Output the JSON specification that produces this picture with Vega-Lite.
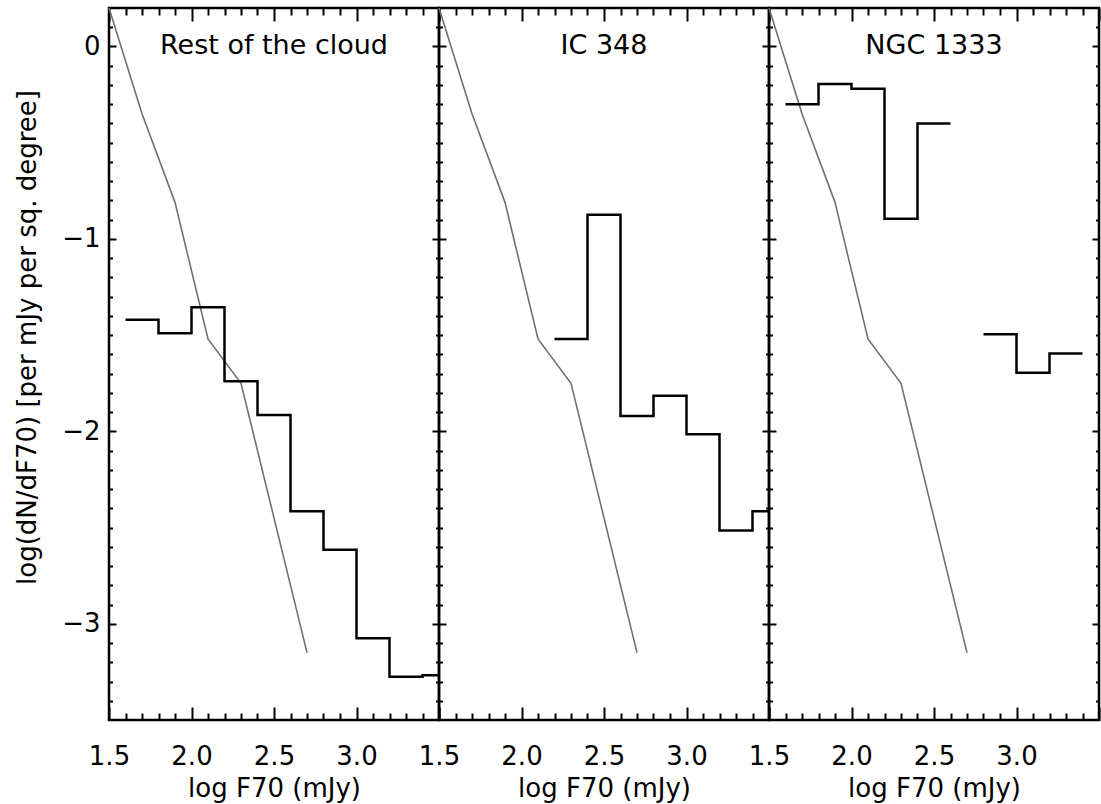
{
  "$schema": "https://vega.github.io/schema/vega-lite/v6.json",
  "background": "white",
  "padding": {"left": 13, "top": 3, "right": 2, "bottom": 0},
  "spacing": 0,
  "bounds": "flush",
  "datasets": {
    "model": [
      {"x": 1.5, "y": 0.2},
      {"x": 1.7, "y": -0.35},
      {"x": 1.9, "y": -0.81},
      {"x": 2.1, "y": -1.52},
      {"x": 2.3, "y": -1.75},
      {"x": 2.7, "y": -3.15}
    ],
    "hist": [
      {"panel": "rest", "seg": 1, "x": 1.6, "y": -1.42},
      {"panel": "rest", "seg": 1, "x": 1.8, "y": -1.49},
      {"panel": "rest", "seg": 1, "x": 2.0, "y": -1.355},
      {"panel": "rest", "seg": 1, "x": 2.2, "y": -1.74},
      {"panel": "rest", "seg": 1, "x": 2.4, "y": -1.915},
      {"panel": "rest", "seg": 1, "x": 2.6, "y": -2.415},
      {"panel": "rest", "seg": 1, "x": 2.8, "y": -2.615},
      {"panel": "rest", "seg": 1, "x": 3.0, "y": -3.075},
      {"panel": "rest", "seg": 1, "x": 3.2, "y": -3.275},
      {"panel": "rest", "seg": 1, "x": 3.4, "y": -3.267},
      {"panel": "rest", "seg": 1, "x": 3.5, "y": -3.267},
      {"panel": "ic348", "seg": 1, "x": 2.2, "y": -1.52},
      {"panel": "ic348", "seg": 1, "x": 2.4, "y": -0.875},
      {"panel": "ic348", "seg": 1, "x": 2.6, "y": -1.92},
      {"panel": "ic348", "seg": 1, "x": 2.8, "y": -1.815},
      {"panel": "ic348", "seg": 1, "x": 3.0, "y": -2.015},
      {"panel": "ic348", "seg": 1, "x": 3.2, "y": -2.515},
      {"panel": "ic348", "seg": 1, "x": 3.4, "y": -2.415},
      {"panel": "ic348", "seg": 1, "x": 3.5, "y": -2.415},
      {"panel": "ngc1333", "seg": 1, "x": 1.6, "y": -0.3},
      {"panel": "ngc1333", "seg": 1, "x": 1.8, "y": -0.195},
      {"panel": "ngc1333", "seg": 1, "x": 2.0, "y": -0.22},
      {"panel": "ngc1333", "seg": 1, "x": 2.2, "y": -0.895},
      {"panel": "ngc1333", "seg": 1, "x": 2.4, "y": -0.4},
      {"panel": "ngc1333", "seg": 1, "x": 2.6, "y": -0.4},
      {"panel": "ngc1333", "seg": 2, "x": 2.8, "y": -1.495},
      {"panel": "ngc1333", "seg": 2, "x": 3.0, "y": -1.695},
      {"panel": "ngc1333", "seg": 2, "x": 3.2, "y": -1.595},
      {"panel": "ngc1333", "seg": 2, "x": 3.4, "y": -1.595}
    ],
    "titles": [
      {"panel": "rest", "label": "Rest of the cloud"},
      {"panel": "ic348", "label": "IC 348"},
      {"panel": "ngc1333", "label": "NGC 1333"}
    ]
  },
  "hconcat": [
    {
      "width": 330, "height": 712,
      "layer": [
        {
          "data": {"name": "model"},
          "mark": {"type": "line", "color": "#707070", "strokeWidth": 1.6},
          "encoding": {
            "x": {"field": "x", "type": "quantitative", "scale": {"domain": [1.5, 3.5], "nice": false, "zero": false},
              "axis": {"orient": "bottom", "values": [1.5,1.6,1.7,1.8,1.9,2.0,2.1,2.2,2.3,2.4,2.5,2.6,2.7,2.8,2.9,3.0,3.1,3.2,3.3,3.4,3.5],
                "tickSize": {"condition": {"test": "abs(datum.value*2-round(datum.value*2))<0.001", "value": -13}, "value": -7},
                "labelExpr": "abs(datum.value*2-round(datum.value*2))<0.001 && datum.value<3.4 ? format(datum.value,'.1f') : ''",
                "labelPadding": 36, "title": "log F70 (mJy)", "titlePadding": 0}},
            "y": {"field": "y", "type": "quantitative", "scale": {"domain": [-3.5, 0.2], "nice": false, "zero": false},
              "axis": {"orient": "left", "values": [-3.4,-3.3,-3.2,-3.1,-3,-2.9,-2.8,-2.7,-2.6,-2.5,-2.4,-2.3,-2.2,-2.1,-2,-1.9,-1.8,-1.7,-1.6,-1.5,-1.4,-1.3,-1.2,-1.1,-1,-0.9,-0.8,-0.7,-0.6,-0.5,-0.4,-0.3,-0.2,-0.1,0,0.1],
                "tickSize": {"condition": {"test": "abs(datum.value-round(datum.value))<0.001", "value": -7}, "value": -3.5},
                "labelExpr": "abs(datum.value-round(datum.value))<0.001 ? format(round(datum.value),'d') : ''",
                "labelPadding": 16, "title": "log(dN/dF70) [per mJy per sq. degree]", "titlePadding": 21, "titleY": 329}}
          }
        },
        {
          "data": {"name": "hist"},
          "transform": [{"filter": "datum.panel == 'rest'"}],
          "mark": {"type": "line", "interpolate": "step-after", "color": "black", "strokeWidth": 2.5},
          "encoding": {
            "x": {"field": "x", "type": "quantitative", "scale": {"domain": [1.5, 3.5], "nice": false, "zero": false},
              "axis": {"orient": "top", "values": [1.5,1.6,1.7,1.8,1.9,2.0,2.1,2.2,2.3,2.4,2.5,2.6,2.7,2.8,2.9,3.0,3.1,3.2,3.3,3.4,3.5],
                "tickSize": {"condition": {"test": "abs(datum.value*2-round(datum.value*2))<0.001", "value": -13}, "value": -7},
                "labels": false, "title": null}},
            "y": {"field": "y", "type": "quantitative", "scale": {"domain": [-3.5, 0.2], "nice": false, "zero": false},
              "axis": {"orient": "right", "values": [-3.4,-3.3,-3.2,-3.1,-3,-2.9,-2.8,-2.7,-2.6,-2.5,-2.4,-2.3,-2.2,-2.1,-2,-1.9,-1.8,-1.7,-1.6,-1.5,-1.4,-1.3,-1.2,-1.1,-1,-0.9,-0.8,-0.7,-0.6,-0.5,-0.4,-0.3,-0.2,-0.1,0,0.1],
                "tickSize": {"condition": {"test": "abs(datum.value-round(datum.value))<0.001", "value": -7}, "value": -3.5},
                "labels": false, "title": null}},
            "detail": {"field": "seg", "type": "nominal"}
          }
        },
        {
          "data": {"name": "titles"},
          "transform": [{"filter": "datum.panel == 'rest'"}],
          "mark": {"type": "text", "font": "DejaVu Sans", "fontSize": 27, "baseline": "middle", "align": "center", "color": "black"},
          "encoding": {
            "x": {"datum": 2.5, "type": "quantitative", "axis": null},
            "y": {"datum": 0, "type": "quantitative", "axis": null},
            "text": {"field": "label"}
          }
        }
      ],
      "resolve": {"axis": {"x": "independent", "y": "independent"}}
    },
    {
      "width": 330, "height": 712,
      "layer": [
        {
          "data": {"name": "model"},
          "mark": {"type": "line", "color": "#707070", "strokeWidth": 1.6},
          "encoding": {
            "x": {"field": "x", "type": "quantitative", "scale": {"domain": [1.5, 3.5], "nice": false, "zero": false},
              "axis": {"orient": "bottom", "values": [1.5,1.6,1.7,1.8,1.9,2.0,2.1,2.2,2.3,2.4,2.5,2.6,2.7,2.8,2.9,3.0,3.1,3.2,3.3,3.4,3.5],
                "tickSize": {"condition": {"test": "abs(datum.value*2-round(datum.value*2))<0.001", "value": -13}, "value": -7},
                "labelExpr": "abs(datum.value*2-round(datum.value*2))<0.001 && datum.value<3.4 ? format(datum.value,'.1f') : ''",
                "labelPadding": 36, "title": "log F70 (mJy)", "titlePadding": 0}},
            "y": {"field": "y", "type": "quantitative", "scale": {"domain": [-3.5, 0.2], "nice": false, "zero": false},
              "axis": {"orient": "left", "values": [-3.4,-3.3,-3.2,-3.1,-3,-2.9,-2.8,-2.7,-2.6,-2.5,-2.4,-2.3,-2.2,-2.1,-2,-1.9,-1.8,-1.7,-1.6,-1.5,-1.4,-1.3,-1.2,-1.1,-1,-0.9,-0.8,-0.7,-0.6,-0.5,-0.4,-0.3,-0.2,-0.1,0,0.1],
                "tickSize": {"condition": {"test": "abs(datum.value-round(datum.value))<0.001", "value": -7}, "value": -3.5},
                "labels": false, "title": null}}
          }
        },
        {
          "data": {"name": "hist"},
          "transform": [{"filter": "datum.panel == 'ic348'"}],
          "mark": {"type": "line", "interpolate": "step-after", "color": "black", "strokeWidth": 2.5},
          "encoding": {
            "x": {"field": "x", "type": "quantitative", "scale": {"domain": [1.5, 3.5], "nice": false, "zero": false},
              "axis": {"orient": "top", "values": [1.5,1.6,1.7,1.8,1.9,2.0,2.1,2.2,2.3,2.4,2.5,2.6,2.7,2.8,2.9,3.0,3.1,3.2,3.3,3.4,3.5],
                "tickSize": {"condition": {"test": "abs(datum.value*2-round(datum.value*2))<0.001", "value": -13}, "value": -7},
                "labels": false, "title": null}},
            "y": {"field": "y", "type": "quantitative", "scale": {"domain": [-3.5, 0.2], "nice": false, "zero": false},
              "axis": {"orient": "right", "values": [-3.4,-3.3,-3.2,-3.1,-3,-2.9,-2.8,-2.7,-2.6,-2.5,-2.4,-2.3,-2.2,-2.1,-2,-1.9,-1.8,-1.7,-1.6,-1.5,-1.4,-1.3,-1.2,-1.1,-1,-0.9,-0.8,-0.7,-0.6,-0.5,-0.4,-0.3,-0.2,-0.1,0,0.1],
                "tickSize": {"condition": {"test": "abs(datum.value-round(datum.value))<0.001", "value": -7}, "value": -3.5},
                "labels": false, "title": null}},
            "detail": {"field": "seg", "type": "nominal"}
          }
        },
        {
          "data": {"name": "titles"},
          "transform": [{"filter": "datum.panel == 'ic348'"}],
          "mark": {"type": "text", "font": "DejaVu Sans", "fontSize": 27, "baseline": "middle", "align": "center", "color": "black"},
          "encoding": {
            "x": {"datum": 2.5, "type": "quantitative", "axis": null},
            "y": {"datum": 0, "type": "quantitative", "axis": null},
            "text": {"field": "label"}
          }
        }
      ],
      "resolve": {"axis": {"x": "independent", "y": "independent"}}
    },
    {
      "width": 330, "height": 712,
      "layer": [
        {
          "data": {"name": "model"},
          "mark": {"type": "line", "color": "#707070", "strokeWidth": 1.6},
          "encoding": {
            "x": {"field": "x", "type": "quantitative", "scale": {"domain": [1.5, 3.5], "nice": false, "zero": false},
              "axis": {"orient": "bottom", "values": [1.5,1.6,1.7,1.8,1.9,2.0,2.1,2.2,2.3,2.4,2.5,2.6,2.7,2.8,2.9,3.0,3.1,3.2,3.3,3.4,3.5],
                "tickSize": {"condition": {"test": "abs(datum.value*2-round(datum.value*2))<0.001", "value": -13}, "value": -7},
                "labelExpr": "abs(datum.value*2-round(datum.value*2))<0.001 && datum.value<3.4 ? format(datum.value,'.1f') : ''",
                "labelPadding": 36, "title": "log F70 (mJy)", "titlePadding": 0}},
            "y": {"field": "y", "type": "quantitative", "scale": {"domain": [-3.5, 0.2], "nice": false, "zero": false},
              "axis": {"orient": "left", "values": [-3.4,-3.3,-3.2,-3.1,-3,-2.9,-2.8,-2.7,-2.6,-2.5,-2.4,-2.3,-2.2,-2.1,-2,-1.9,-1.8,-1.7,-1.6,-1.5,-1.4,-1.3,-1.2,-1.1,-1,-0.9,-0.8,-0.7,-0.6,-0.5,-0.4,-0.3,-0.2,-0.1,0,0.1],
                "tickSize": {"condition": {"test": "abs(datum.value-round(datum.value))<0.001", "value": -7}, "value": -3.5},
                "labels": false, "title": null}}
          }
        },
        {
          "data": {"name": "hist"},
          "transform": [{"filter": "datum.panel == 'ngc1333'"}],
          "mark": {"type": "line", "interpolate": "step-after", "color": "black", "strokeWidth": 2.5},
          "encoding": {
            "x": {"field": "x", "type": "quantitative", "scale": {"domain": [1.5, 3.5], "nice": false, "zero": false},
              "axis": {"orient": "top", "values": [1.5,1.6,1.7,1.8,1.9,2.0,2.1,2.2,2.3,2.4,2.5,2.6,2.7,2.8,2.9,3.0,3.1,3.2,3.3,3.4,3.5],
                "tickSize": {"condition": {"test": "abs(datum.value*2-round(datum.value*2))<0.001", "value": -13}, "value": -7},
                "labels": false, "title": null}},
            "y": {"field": "y", "type": "quantitative", "scale": {"domain": [-3.5, 0.2], "nice": false, "zero": false},
              "axis": {"orient": "right", "values": [-3.4,-3.3,-3.2,-3.1,-3,-2.9,-2.8,-2.7,-2.6,-2.5,-2.4,-2.3,-2.2,-2.1,-2,-1.9,-1.8,-1.7,-1.6,-1.5,-1.4,-1.3,-1.2,-1.1,-1,-0.9,-0.8,-0.7,-0.6,-0.5,-0.4,-0.3,-0.2,-0.1,0,0.1],
                "tickSize": {"condition": {"test": "abs(datum.value-round(datum.value))<0.001", "value": -7}, "value": -3.5},
                "labels": false, "title": null}},
            "detail": {"field": "seg", "type": "nominal"}
          }
        },
        {
          "data": {"name": "titles"},
          "transform": [{"filter": "datum.panel == 'ngc1333'"}],
          "mark": {"type": "text", "font": "DejaVu Sans", "fontSize": 27, "baseline": "middle", "align": "center", "color": "black"},
          "encoding": {
            "x": {"datum": 2.5, "type": "quantitative", "axis": null},
            "y": {"datum": 0, "type": "quantitative", "axis": null},
            "text": {"field": "label"}
          }
        }
      ],
      "resolve": {"axis": {"x": "independent", "y": "independent"}}
    }
  ],
  "config": {
    "view": {"stroke": "black", "strokeWidth": 2.5},
    "axis": {
      "domain": false, "grid": false, "tickColor": "black", "tickWidth": 2,
      "labelFont": "DejaVu Sans", "labelFontSize": 26, "labelColor": "black",
      "titleFont": "DejaVu Sans", "titleFontSize": 26, "titleFontWeight": "normal", "titleColor": "black",
      "labelFlush": false, "labelOverlap": false
    }
  }
}
